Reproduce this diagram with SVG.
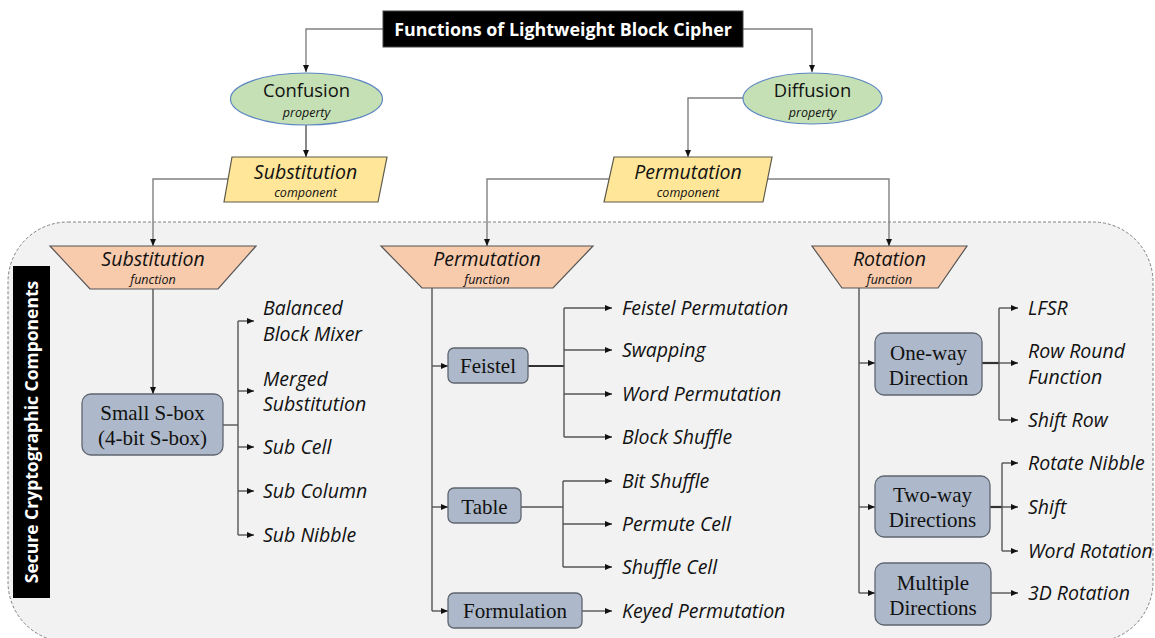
<svg xmlns="http://www.w3.org/2000/svg" width="1155" height="638" viewBox="0 0 1155 638">
<defs>
<marker id="arr" markerWidth="7" markerHeight="6" refX="7" refY="3" orient="auto" markerUnits="userSpaceOnUse">
<path d="M0,0 L7,3 L0,6 Z" fill="#111"/>
</marker>
<style>
.conn{fill:none;stroke:#555;stroke-width:1.4}
.top{stroke:#808080}
.thick{stroke:#333;stroke-width:2.2}
.ell{fill:#c5e0b4;stroke:#5b86c2;stroke-width:1.2}
.par{fill:#ffe699;stroke:#5e5a4a;stroke-width:1.2}
.trap{fill:#f8cbad;stroke:#555;stroke-width:1.2}
.box{fill:#adb9ca;stroke:#5f6670;stroke-width:1.3}
.t{font-family:"Open Sans",sans-serif;fill:#111}
.it{font-family:"Open Sans",sans-serif;font-style:italic;fill:#111}
.lab{font-family:"Open Sans",sans-serif;font-style:italic;font-size:19.5px;fill:#111}
.tm{font-family:"Liberation Serif",serif;font-size:21px;fill:#111;text-anchor:middle}
.c{text-anchor:middle}
</style>
</defs>
<rect width="1155" height="638" fill="#ffffff"/>
<rect id="region" x="8" y="222" width="1145" height="420" rx="60" ry="60" fill="#f2f2f2" stroke="#808080" stroke-width="1" stroke-dasharray="3,2"/>
<g id="side-label">
<rect x="13" y="266" width="37" height="332" fill="#000"/>
<text transform="translate(38,432) rotate(-90)" class="t c" style="font-weight:bold;font-size:17.5px;fill:#fff">Secure Cryptographic Components</text>
</g>
<g id="connectors">
<path class="conn top" d="M383,29 H306 V72" marker-end="url(#arr)"/>
<path class="conn top" d="M743,29 H812 V72" marker-end="url(#arr)"/>
<path class="conn" d="M306,125 V157" marker-end="url(#arr)"/>
<path class="conn top" d="M743,98 H688 V157" marker-end="url(#arr)"/>
<path class="conn top" d="M228,179 H153 V246" marker-end="url(#arr)"/>
<path class="conn top" d="M609,179 H487 V246" marker-end="url(#arr)"/>
<path class="conn top" d="M767,179 H889 V246" marker-end="url(#arr)"/>
<path class="conn" d="M153,289 V394" marker-end="url(#arr)"/>
<path class="conn" d="M223,425 H238"/>
<path class="conn" d="M238,321 V535"/>
<path class="conn" d="M238,321 H254" marker-end="url(#arr)"/>
<path class="conn" d="M238,391 H254" marker-end="url(#arr)"/>
<path class="conn" d="M238,447 H254" marker-end="url(#arr)"/>
<path class="conn" d="M238,491 H254" marker-end="url(#arr)"/>
<path class="conn" d="M238,535 H254" marker-end="url(#arr)"/>
<path class="conn" d="M432,288 V611"/>
<path class="conn" d="M432,366 H448" marker-end="url(#arr)"/>
<path class="conn" d="M432,507 H448" marker-end="url(#arr)"/>
<path class="conn" d="M432,611 H448" marker-end="url(#arr)"/>
<path class="conn thick" d="M528,366 H564"/>
<path class="conn" d="M564,308 V437"/>
<path class="conn" d="M564,308 H612" marker-end="url(#arr)"/>
<path class="conn" d="M564,350 H612" marker-end="url(#arr)"/>
<path class="conn" d="M564,394 H612" marker-end="url(#arr)"/>
<path class="conn" d="M564,437 H612" marker-end="url(#arr)"/>
<path class="conn" d="M521,507 H563"/>
<path class="conn" d="M563,481 V567"/>
<path class="conn" d="M563,481 H612" marker-end="url(#arr)"/>
<path class="conn" d="M563,524 H612" marker-end="url(#arr)"/>
<path class="conn" d="M563,567 H612" marker-end="url(#arr)"/>
<path class="conn" d="M582,611 H612" marker-end="url(#arr)"/>
<path class="conn" d="M859,288 V593"/>
<path class="conn" d="M859,363 H875" marker-end="url(#arr)"/>
<path class="conn" d="M859,507 H875" marker-end="url(#arr)"/>
<path class="conn" d="M859,593 H875" marker-end="url(#arr)"/>
<path class="conn thick" d="M982,363 H999"/>
<path class="conn" d="M999,308 V420"/>
<path class="conn" d="M999,308 H1018" marker-end="url(#arr)"/>
<path class="conn" d="M999,363 H1018" marker-end="url(#arr)"/>
<path class="conn" d="M999,420 H1018" marker-end="url(#arr)"/>
<path class="conn thick" d="M990,507 H1002"/>
<path class="conn" d="M1002,463 V551"/>
<path class="conn" d="M1002,463 H1018" marker-end="url(#arr)"/>
<path class="conn" d="M1002,507 H1018" marker-end="url(#arr)"/>
<path class="conn" d="M1002,551 H1018" marker-end="url(#arr)"/>
<path class="conn" d="M991,593 H1018" marker-end="url(#arr)"/>
</g>
<g id="title">
<rect x="383" y="11" width="360" height="36" fill="#000" stroke="#444" stroke-width="1"/>
<text x="563" y="35.5" class="t c" style="font-weight:bold;font-size:17.9px;fill:#fff">Functions of Lightweight Block Cipher</text>
</g>
<g id="confusion">
<ellipse class="ell" cx="306.5" cy="99" rx="76" ry="26"/>
<text x="306.5" y="96.5" class="t c" font-size="18.4">Confusion</text>
<text x="306.5" y="116.5" class="it c" font-size="12.5">property</text>
</g>
<g id="diffusion">
<ellipse class="ell" cx="812.5" cy="98.5" rx="69.5" ry="25.5"/>
<text x="812.5" y="96.5" class="t c" font-size="18.4">Diffusion</text>
<text x="812.5" y="116.5" class="it c" font-size="12.5">property</text>
</g>
<g id="substitution-component">
<polygon class="par" points="232,157 387,157 378,202 224,202"/>
<text x="305.5" y="179" class="it c" font-size="19.5">Substitution</text>
<text x="305.5" y="196.5" class="it c" font-size="12.5">component</text>
</g>
<g id="permutation-component">
<polygon class="par" points="614,157 772,157 763,202 604,202"/>
<text x="688" y="179" class="it c" font-size="19.5">Permutation</text>
<text x="688" y="196.5" class="it c" font-size="12.5">component</text>
</g>
<g id="substitution-function">
<polygon class="trap" points="50,246 256,246 218,289 90,289"/>
<text x="153" y="266" class="it c" font-size="19.5">Substitution</text>
<text x="153" y="284" class="it c" font-size="12.5">function</text>
</g>
<g id="permutation-function">
<polygon class="trap" points="381,246 593,246 553,288 422,288"/>
<text x="487" y="266" class="it c" font-size="19.5">Permutation</text>
<text x="487" y="284" class="it c" font-size="12.5">function</text>
</g>
<g id="rotation-function">
<polygon class="trap" points="812,246 967,246 938,288 842,288"/>
<text x="889.5" y="266" class="it c" font-size="19.5">Rotation</text>
<text x="889.5" y="284" class="it c" font-size="12.5">function</text>
</g>
<g id="small-sbox">
<rect class="box" x="82" y="394" width="141" height="61" rx="9"/>
<text x="152.5" y="420" class="tm">Small S-box</text>
<text x="152.5" y="445" class="tm">(4-bit S-box)</text>
</g>
<g id="sub-labels">
<text x="263" y="315" class="lab">Balanced</text>
<text x="263" y="341" class="lab">Block Mixer</text>
<text x="263" y="386" class="lab">Merged</text>
<text x="263" y="411" class="lab">Substitution</text>
<text x="263" y="454" class="lab">Sub Cell</text>
<text x="263" y="498" class="lab">Sub Column</text>
<text x="263" y="542" class="lab">Sub Nibble</text>
</g>
<g id="feistel">
<rect class="box" x="448" y="348" width="80" height="35" rx="6"/>
<text x="488" y="373" class="tm">Feistel</text>
</g>
<g id="table">
<rect class="box" x="448" y="488" width="73" height="35" rx="6"/>
<text x="484.5" y="514" class="tm">Table</text>
</g>
<g id="formulation">
<rect class="box" x="448" y="593" width="134" height="35" rx="6"/>
<text x="515" y="618" class="tm">Formulation</text>
</g>
<g id="perm-labels">
<text x="622" y="315" class="lab">Feistel Permutation</text>
<text x="622" y="357" class="lab">Swapping</text>
<text x="622" y="401" class="lab">Word Permutation</text>
<text x="622" y="444" class="lab">Block Shuffle</text>
<text x="622" y="488" class="lab">Bit Shuffle</text>
<text x="622" y="531" class="lab">Permute Cell</text>
<text x="622" y="574" class="lab">Shuffle Cell</text>
<text x="622" y="618" class="lab">Keyed Permutation</text>
</g>
<g id="one-way">
<rect class="box" x="875" y="333" width="107" height="62" rx="9"/>
<text x="928.5" y="360" class="tm">One-way</text>
<text x="928.5" y="385" class="tm">Direction</text>
</g>
<g id="two-way">
<rect class="box" x="875" y="476" width="115" height="61" rx="9"/>
<text x="932.5" y="502" class="tm">Two-way</text>
<text x="932.5" y="527" class="tm">Directions</text>
</g>
<g id="multiple">
<rect class="box" x="875" y="563" width="116" height="62" rx="9"/>
<text x="933" y="590" class="tm">Multiple</text>
<text x="933" y="615" class="tm">Directions</text>
</g>
<g id="rot-labels">
<text x="1028" y="315" class="lab">LFSR</text>
<text x="1028" y="358" class="lab">Row Round</text>
<text x="1028" y="384" class="lab">Function</text>
<text x="1028" y="427" class="lab">Shift Row</text>
<text x="1028" y="470" class="lab">Rotate Nibble</text>
<text x="1028" y="514" class="lab">Shift</text>
<text x="1028" y="558" class="lab">Word Rotation</text>
<text x="1028" y="600" class="lab">3D Rotation</text>
</g>
</svg>
